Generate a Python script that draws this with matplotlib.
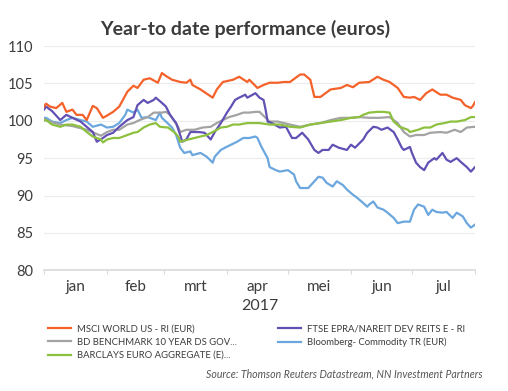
import matplotlib
matplotlib.use("Agg")
import matplotlib.pyplot as plt

plt.rcParams["font.family"] = ["Lato", "DejaVu Sans"]

TEXT = "#3c3c3c"

# Year-to-date index levels (start = 100), x = day of year 2017
msci_days = [0, 1, 3, 6, 9, 11, 14, 16, 19, 21, 24, 26, 29, 31, 34, 37, 41, 44, 46, 49,
             52, 56, 58, 60, 63, 67, 70, 72, 73, 77, 83, 85, 88, 93, 96, 100, 101, 105, 108, 111,
             115, 118, 121, 126, 128, 131, 133, 136, 141, 146, 149, 152, 155, 160, 164, 167, 170, 174, 177, 180,
             182, 185, 188, 191, 195, 198, 201, 205, 207, 210, 211, 212]
msci_vals = [101.9, 102.3, 101.9, 101.7, 102.4, 101.2, 101.5, 100.8, 100.8, 100.1,
             102.0, 101.7, 100.4, 100.7, 101.2, 101.9, 103.9, 104.7, 104.4, 105.5,
             105.7, 105.1, 106.4, 106.0, 105.5, 105.2, 105.1, 105.5, 104.8, 104.2,
             103.1, 104.2, 105.2, 105.5, 105.9, 105.2, 105.5, 104.4, 104.8, 105.1,
             105.1, 105.2, 105.2, 106.2, 106.2, 105.5, 103.2, 103.2, 104.2, 104.4,
             104.8, 104.5, 105.1, 105.2, 105.9, 105.5, 105.2, 104.4, 103.2, 103.1,
             103.2, 102.8, 103.7, 104.2, 103.5, 103.5, 103.1, 102.8, 102.1, 101.7,
             102.0, 102.5]

ftse_days = [0, 1, 4, 8, 11, 14, 18, 21, 24, 26, 29, 31, 34, 37, 41, 44, 46, 49, 51, 54,
             55, 58, 60, 62, 65, 67, 68, 70, 72, 76, 79, 82, 84, 87, 90, 92, 94, 96, 99, 100,
             104, 106, 108, 109, 110, 112, 116, 119, 122, 124, 127, 130, 133, 135, 137, 140, 142, 145, 149, 151,
             153, 157, 159, 162, 164, 166, 169, 172, 174, 176, 177, 180, 181, 183, 185, 187, 189, 192, 193, 196,
             198, 200, 203, 205, 208, 210, 212]
ftse_vals = [101.5, 101.9, 101.3, 100.1, 100.8, 100.4, 99.9, 99.2, 98.5, 97.2,
             97.7, 98.1, 98.4, 99.2, 100.1, 100.5, 102.1, 102.8, 102.4, 102.8,
             103.1, 102.4, 101.9, 100.8, 99.7, 98.1, 97.2, 97.5, 98.5, 98.5,
             98.4, 97.5, 98.5, 99.7, 101.1, 101.9, 102.8, 103.1, 103.5, 103.1,
             103.7, 103.1, 102.8, 101.5, 99.9, 99.7, 99.1, 99.2, 97.7, 97.7,
             98.4, 97.5, 96.1, 95.7, 96.1, 96.1, 96.8, 96.4, 96.1, 96.8,
             96.4, 97.5, 98.4, 99.2, 99.1, 98.8, 99.1, 98.5, 97.5, 96.4,
             96.1, 96.5, 95.7, 94.4, 93.8, 93.4, 94.4, 95.0, 94.8, 95.7,
             94.8, 94.5, 95.0, 94.5, 93.8, 93.2, 93.8]

bd_days = [0, 1, 4, 8, 14, 21, 28, 31, 34, 37, 41, 44, 47, 51, 54, 58, 60, 62, 66, 67,
           70, 74, 78, 82, 85, 88, 91, 95, 98, 101, 104, 106, 109, 111, 115, 118, 121, 126, 131, 136,
           141, 146, 151, 155, 160, 165, 170, 174, 177, 180, 183, 187, 190, 195, 198, 202, 205, 208, 212]
bd_vals = [100.3, 100.1, 99.8, 99.5, 99.3, 98.8, 98.0, 98.5, 98.8, 98.8,
           99.5, 99.7, 100.1, 100.5, 101.1, 101.1, 101.2, 100.8, 99.2, 98.5,
           98.8, 98.8, 99.1, 99.2, 99.7, 100.1, 100.5, 100.8, 101.1, 101.1,
           101.2, 101.2, 100.4, 99.9, 99.9, 99.7, 99.5, 99.2, 99.5, 99.7,
           100.1, 100.4, 100.4, 100.5, 100.4, 100.4, 100.5, 99.7, 98.5, 97.9,
           98.1, 98.1, 98.4, 98.5, 98.4, 98.8, 98.5, 99.1, 99.2]

bbg_days = [0, 1, 4, 8, 11, 14, 18, 21, 24, 28, 31, 34, 37, 40, 41, 44, 46, 48, 51, 52,
            55, 57, 58, 60, 63, 65, 67, 69, 72, 73, 77, 80, 83, 84, 87, 89, 92, 95, 98, 101,
            104, 105, 107, 110, 111, 114, 116, 120, 123, 124, 126, 130, 133, 135, 137, 139, 142, 144, 147, 149,
            152, 154, 157, 159, 160, 162, 164, 167, 169, 172, 174, 177, 180, 182, 184, 187, 189, 191, 193, 196,
            198, 201, 203, 206, 208, 210, 212]
bbg_vals = [100.4, 100.4, 99.9, 99.7, 100.1, 100.4, 100.1, 99.9, 99.2, 99.5,
            99.1, 99.2, 99.7, 100.8, 101.5, 101.1, 101.5, 100.4, 100.5, 100.4,
            100.1, 101.1, 100.4, 99.9, 99.1, 98.1, 96.4, 95.7, 95.9, 95.4,
            95.7, 95.2, 94.4, 95.2, 96.1, 96.4, 96.8, 97.2, 97.7, 97.7,
            97.9, 97.7, 96.5, 95.0, 93.8, 93.4, 93.2, 93.4, 92.8, 91.9,
            91.0, 91.0, 91.9, 92.5, 92.4, 91.7, 91.2, 91.9, 91.4, 90.8,
            90.1, 89.7, 89.0, 88.5, 88.8, 89.2, 88.4, 88.1, 87.7, 87.0,
            86.3, 86.5, 86.5, 88.1, 88.8, 88.5, 87.4, 88.1, 87.8, 87.7,
            87.8, 87.0, 87.7, 87.2, 86.3, 85.7, 86.1]

barc_days = [0, 1, 4, 8, 11, 14, 18, 21, 24, 28, 29, 31, 34, 37, 41, 44, 46, 49, 52, 55,
             57, 61, 64, 66, 67, 71, 74, 77, 80, 83, 87, 90, 93, 96, 100, 103, 106, 111, 116, 121,
             126, 131, 136, 141, 146, 151, 155, 157, 160, 164, 167, 170, 172, 175, 179, 180, 184, 187, 190, 193,
             197, 200, 203, 207, 210, 212]
barc_vals = [100.0, 100.1, 99.5, 99.2, 99.5, 99.5, 99.2, 98.5, 97.9, 97.5,
             97.1, 97.5, 97.7, 97.7, 98.1, 98.4, 98.5, 99.1, 99.5, 99.7,
             99.2, 99.1, 98.5, 97.9, 97.2, 97.5, 97.7, 97.9, 98.1, 98.5,
             99.1, 99.2, 99.5, 99.5, 99.7, 99.7, 99.7, 99.5, 99.5, 99.2,
             99.1, 99.5, 99.7, 99.9, 100.1, 100.4, 100.5, 100.8, 101.1, 101.2,
             101.2, 101.1, 99.9, 99.2, 98.8, 98.5, 98.8, 99.1, 99.1, 99.5,
             99.7, 99.9, 99.9, 100.1, 100.5, 100.5]

month_labels = ["jan", "feb", "mrt", "apr", "mei", "jun", "jul"]
month_starts = [0, 31, 59, 90, 120, 151, 181, 212]

series = [
    ("MSCI WORLD US - RI (EUR)", msci_days, msci_vals, "#f4622a"),
    ("BD BENCHMARK 10 YEAR DS GOV...", bd_days, bd_vals, "#a3a3a3"),
    ("BARCLAYS EURO AGGREGATE (E)...", barc_days, barc_vals, "#8dc03f"),
    ("FTSE EPRA/NAREIT DEV REITS E - RI", ftse_days, ftse_vals, "#6250b4"),
    ("Bloomberg- Commodity TR (EUR)", bbg_days, bbg_vals, "#6ba7de"),
]
# drawing order (bottom to top)
draw_order = [4, 1, 3, 2, 0]

fig = plt.figure(figsize=(5.08, 3.91), dpi=100)
ax = fig.add_axes([0.0866, 0.309, 0.8484, 0.573])

lines = {}
for i in draw_order:
    name, d, v, c = series[i]
    lines[i], = ax.plot(d, v, color=c, lw=1.6, label=name, solid_joinstyle="round")

ax.set_xlim(0, 212)
ax.set_ylim(80, 110)
ax.set_yticks(range(80, 111, 5))
ax.yaxis.grid(True, color="#ececec", lw=0.8)
ax.set_axisbelow(True)
for s in ["top", "right", "left"]:
    ax.spines[s].set_visible(False)
ax.spines["bottom"].set_color("#d9d9d9")
ax.spines["bottom"].set_linewidth(1.2)
ax.tick_params(axis="y", length=0, labelsize=10.5, labelcolor=TEXT, pad=8)

centers = [(a + b) / 2 for a, b in zip(month_starts[:-1], month_starts[1:])]
ax.set_xticks(month_starts, minor=False)
ax.set_xticklabels([])
ax.tick_params(axis="x", length=3, color="#d9d9d9", width=0.8)
ax.set_xticks(centers, minor=True)
ax.set_xticklabels(month_labels, minor=True)
ax.tick_params(axis="x", which="minor", length=0, labelsize=11, labelcolor=TEXT, pad=7)
ax.set_xlabel("2017", fontsize=11.5, color=TEXT, labelpad=4)

fig.text(0.482, 0.927, "Year-to date performance (euros)", ha="center", va="center",
         fontsize=14, fontweight="bold", color=TEXT)

handles = [lines[i] for i in range(5)]
fig.legend(handles, [s[0] for s in series], ncol=2, loc="upper left",
           bbox_to_anchor=(0.088, 0.18), frameon=False, fontsize=6.8,
           handlelength=2.4, handletextpad=0.6, columnspacing=4.4,
           labelspacing=0.45, borderaxespad=0, labelcolor=TEXT)

fig.text(0.951, 0.043, "Source: Thomson Reuters Datastream, NN Investment Partners",
         ha="right", va="center", fontsize=7.6, style="italic", color="#555555")

fig.savefig("out.png", dpi=100)
